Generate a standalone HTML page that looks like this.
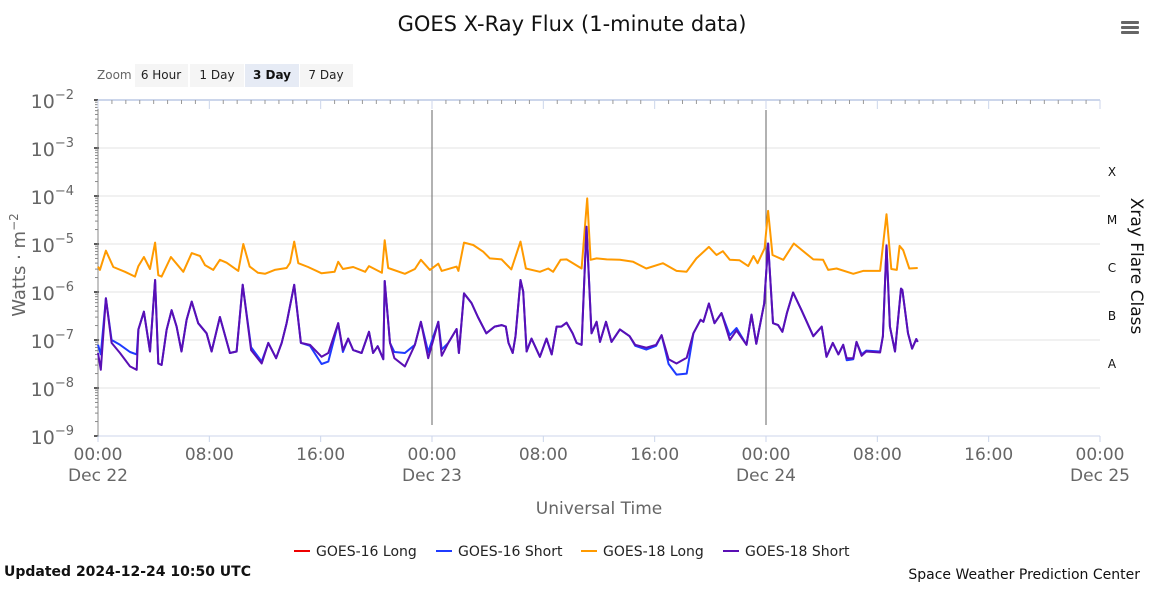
<!DOCTYPE html>
<html><head><meta charset="utf-8">
<style>
body{margin:0;background:#fff;font-family:"Liberation Sans","DejaVu Sans",sans-serif;}
svg text{font-family:"DejaVu Sans","Liberation Sans",sans-serif;}
</style></head>
<body>
<svg id="chart" width="1151" height="589" viewBox="0 0 1151 589" xmlns="http://www.w3.org/2000/svg">
<text x="572" y="31" text-anchor="middle" font-size="21" fill="#111">GOES X-Ray Flux (1-minute data)</text>
<g fill="#666">
<rect x="1121" y="21" width="18" height="3" rx="1"/><rect x="1121" y="26" width="18" height="3" rx="1"/><rect x="1121" y="31" width="18" height="3" rx="1"/>
</g>
<text x="97" y="79" font-size="12" fill="#666">Zoom</text>
<g><rect x="135" y="64" width="53" height="23" fill="#f5f5f5"/><text x="161" y="79" font-size="12" text-anchor="middle" fill="#222">6 Hour</text></g>
<g><rect x="190" y="64" width="54" height="23" fill="#f5f5f5"/><text x="217" y="79" font-size="12" text-anchor="middle" fill="#222">1 Day</text></g>
<g><rect x="245" y="64" width="54" height="23" fill="#e6ebf5"/><text x="272" y="79" font-size="12" text-anchor="middle" fill="#111" font-weight="bold">3 Day</text></g>
<g><rect x="300" y="64" width="53" height="23" fill="#f5f5f5"/><text x="326" y="79" font-size="12" text-anchor="middle" fill="#222">7 Day</text></g>
<g id="grid"></g>
<g id="axes"></g>
<g id="series"></g>
<text transform="translate(25,265) rotate(-90)" text-anchor="middle" font-size="18" fill="#666">Watts · m<tspan dy="-7" font-size="12">−2</tspan></text>
<text transform="translate(1131,266) rotate(90)" text-anchor="middle" font-size="17" fill="#111">Xray Flare Class</text>
<text x="599" y="514" text-anchor="middle" font-size="17" fill="#666">Universal Time</text>
<g font-size="14" fill="#222">
<g><line x1="294" y1="551" x2="310" y2="551" stroke="#e00" stroke-width="2"/><text x="316" y="556">GOES-16 Long</text></g>
<g><line x1="436" y1="551" x2="452" y2="551" stroke="#1f3bff" stroke-width="2"/><text x="458" y="556">GOES-16 Short</text></g>
<g><line x1="581" y1="551" x2="597" y2="551" stroke="#ff9a00" stroke-width="2"/><text x="603" y="556">GOES-18 Long</text></g>
<g><line x1="723" y1="551" x2="739" y2="551" stroke="#5a0fb4" stroke-width="2"/><text x="745" y="556">GOES-18 Short</text></g>
</g>
<text x="4" y="576" font-size="14" font-weight="bold" fill="#111">Updated 2024-12-24 10:50 UTC</text>
<text x="1140" y="579" text-anchor="end" font-size="14" fill="#111">Space Weather Prediction Center</text>
</svg>
<script>
// [hour since Dec 22 00:00, log10(flux)]
const goes18Long=[[0,-5.47],[0.14,-5.54],[0.57,-5.14],[1.1,-5.48],[1.94,-5.58],[2.66,-5.68],[2.9,-5.46],[3.3,-5.27],[3.74,-5.52],[4.1,-4.97],[4.33,-5.65],[4.57,-5.68],[5.24,-5.27],[6.13,-5.58],[6.73,-5.19],[7.33,-5.25],[7.69,-5.44],[8.28,-5.54],[8.76,-5.33],[9.24,-5.39],[10.08,-5.56],[10.44,-5.0],[10.9,-5.47],[11.5,-5.6],[12,-5.62],[12.7,-5.54],[13.55,-5.5],[13.8,-5.39],[14.1,-4.95],[14.39,-5.4],[15.1,-5.48],[16.07,-5.61],[17.0,-5.58],[17.26,-5.37],[17.6,-5.52],[18.34,-5.48],[19.2,-5.58],[19.47,-5.46],[20.4,-5.6],[20.6,-4.92],[20.85,-5.5],[22.05,-5.62],[22.77,-5.52],[23.2,-5.33],[23.85,-5.54],[24.45,-5.41],[24.7,-5.56],[25.77,-5.47],[25.9,-5.56],[26.3,-4.97],[26.96,-5.02],[27.68,-5.16],[28.16,-5.3],[29,-5.32],[29.7,-5.53],[30.36,-4.95],[30.75,-5.51],[31.75,-5.58],[32.35,-5.51],[32.7,-5.58],[33.24,-5.33],[33.67,-5.32],[34.75,-5.51],[35.15,-4.05],[35.4,-5.33],[35.83,-5.3],[36.55,-5.32],[37.5,-5.33],[38.46,-5.37],[39.4,-5.51],[40.6,-5.4],[41.57,-5.56],[42.29,-5.58],[43,-5.3],[43.9,-5.06],[44.44,-5.23],[44.9,-5.15],[45.4,-5.33],[46.1,-5.34],[46.72,-5.46],[47.1,-5.25],[47.4,-5.4],[47.9,-5.09],[48.15,-4.31],[48.47,-5.23],[49.24,-5.33],[50,-4.99],[51.4,-5.32],[52.1,-5.33],[52.47,-5.54],[53.07,-5.51],[54.27,-5.62],[54.98,-5.56],[56.2,-5.56],[56.66,-4.38],[57.0,-5.52],[57.4,-5.54],[57.6,-5.04],[57.86,-5.13],[58.3,-5.51],[58.9,-5.5]];
const goes18Short=[[0,-7.27],[0.2,-7.62],[0.57,-6.13],[0.98,-7.06],[1.58,-7.27],[2.3,-7.55],[2.78,-7.62],[2.9,-6.78],[3.3,-6.41],[3.74,-7.24],[4.1,-5.75],[4.33,-7.49],[4.57,-7.52],[4.93,-6.79],[5.29,-6.38],[5.65,-6.72],[6.0,-7.24],[6.37,-6.58],[6.73,-6.2],[7.2,-6.65],[7.8,-6.86],[8.16,-7.24],[8.76,-6.52],[9.48,-7.27],[9.96,-7.24],[10.4,-5.85],[11,-7.21],[11.76,-7.49],[12.24,-7.06],[12.8,-7.38],[13.2,-7.06],[13.55,-6.65],[14.1,-5.85],[14.58,-7.06],[15.23,-7.1],[16.07,-7.35],[16.55,-7.27],[17.26,-6.65],[17.6,-7.21],[17.98,-6.97],[18.34,-7.21],[18.94,-7.27],[19.47,-6.83],[19.77,-7.27],[20.1,-7.13],[20.5,-7.4],[20.6,-5.77],[20.98,-7.06],[21.3,-7.38],[22.05,-7.55],[22.77,-7.1],[23.2,-6.62],[23.73,-7.38],[24.45,-6.62],[24.7,-7.33],[25.17,-7.06],[25.77,-6.77],[25.93,-7.27],[26.3,-6.03],[26.84,-6.23],[27.3,-6.52],[27.9,-6.86],[28.5,-6.72],[29,-6.69],[29.3,-6.72],[29.5,-7.06],[29.8,-7.27],[30,-6.92],[30.36,-5.75],[30.55,-5.99],[30.8,-7.24],[31.15,-6.97],[31.75,-7.35],[32.23,-6.97],[32.6,-7.3],[32.95,-6.72],[33.3,-6.72],[33.67,-6.64],[34.1,-6.86],[34.39,-7.06],[34.75,-7.1],[35.1,-4.64],[35.46,-6.86],[35.83,-6.62],[36.07,-7.04],[36.5,-6.62],[36.9,-7.04],[37.5,-6.78],[38.2,-6.92],[38.6,-7.1],[39.4,-7.16],[40.1,-7.1],[40.5,-6.9],[41.0,-7.4],[41.57,-7.49],[42.3,-7.37],[42.78,-6.86],[43.3,-6.58],[43.5,-6.62],[43.9,-6.24],[44.3,-6.65],[44.8,-6.44],[45.4,-7.0],[45.88,-6.8],[46.6,-7.1],[46.96,-6.47],[47.3,-7.08],[47.87,-6.24],[48.15,-4.99],[48.5,-6.65],[48.87,-6.69],[49.18,-6.83],[49.5,-6.44],[49.95,-6.01],[50.55,-6.38],[51.4,-6.92],[52,-6.72],[52.35,-7.35],[52.8,-7.06],[53.2,-7.3],[53.55,-7.1],[53.8,-7.38],[54.27,-7.38],[54.5,-7.04],[54.87,-7.33],[55.2,-7.24],[56.2,-7.26],[56.4,-6.92],[56.66,-5.03],[56.9,-6.72],[57.27,-7.24],[57.7,-5.93],[57.8,-5.96],[58.2,-6.86],[58.5,-7.18],[58.8,-6.98],[58.9,-7.04]];
const goes16Short=[[0,-7.1],[0.2,-7.3],[0.57,-6.13],[0.98,-7.0],[1.58,-7.1],[2.3,-7.25],[2.78,-7.3],[2.9,-6.78],[3.3,-6.41],[3.74,-7.24],[4.1,-5.75],[4.33,-7.49],[4.57,-7.52],[4.93,-6.79],[5.29,-6.38],[5.65,-6.72],[6.0,-7.24],[6.37,-6.58],[6.73,-6.2],[7.2,-6.65],[7.8,-6.86],[8.16,-7.24],[8.76,-6.52],[9.48,-7.27],[9.96,-7.24],[10.4,-5.85],[11,-7.15],[11.76,-7.45],[12.24,-7.06],[12.8,-7.38],[13.2,-7.06],[13.55,-6.65],[14.1,-5.85],[14.58,-7.06],[15.23,-7.12],[16.07,-7.5],[16.55,-7.45],[17.26,-6.65],[17.6,-7.25],[17.98,-6.97],[18.34,-7.21],[18.94,-7.27],[19.47,-6.83],[19.77,-7.27],[20.1,-7.13],[20.5,-7.4],[20.6,-5.77],[20.98,-7.06],[21.3,-7.25],[22.05,-7.27],[22.77,-7.1],[23.2,-6.62],[23.73,-7.25],[24.45,-6.62],[24.7,-7.2],[25.17,-7.06],[25.77,-6.77],[25.93,-7.27],[26.3,-6.03],[26.84,-6.23],[27.3,-6.52],[27.9,-6.86],[28.5,-6.72],[29,-6.69],[29.3,-6.72],[29.5,-7.06],[29.8,-7.27],[30,-6.92],[30.36,-5.75],[30.55,-5.99],[30.8,-7.24],[31.15,-6.97],[31.75,-7.35],[32.23,-6.97],[32.6,-7.3],[32.95,-6.72],[33.3,-6.72],[33.67,-6.64],[34.1,-6.86],[34.39,-7.06],[34.75,-7.1],[35.1,-4.64],[35.46,-6.86],[35.83,-6.62],[36.07,-7.04],[36.5,-6.62],[36.9,-7.04],[37.5,-6.78],[38.2,-6.92],[38.6,-7.12],[39.4,-7.2],[40.1,-7.12],[40.5,-6.9],[41.0,-7.5],[41.57,-7.72],[42.3,-7.7],[42.78,-6.86],[43.3,-6.58],[43.5,-6.62],[43.9,-6.24],[44.3,-6.65],[44.8,-6.44],[45.4,-6.9],[45.88,-6.75],[46.6,-7.1],[46.96,-6.47],[47.3,-7.08],[47.87,-6.24],[48.15,-4.99],[48.5,-6.65],[48.87,-6.69],[49.18,-6.83],[49.5,-6.44],[49.95,-6.01],[50.55,-6.38],[51.4,-6.92],[52,-6.72],[52.35,-7.35],[52.8,-7.06],[53.2,-7.3],[53.55,-7.1],[53.8,-7.42],[54.27,-7.4],[54.5,-7.04],[54.87,-7.3],[55.2,-7.22],[56.2,-7.24],[56.4,-6.92],[56.66,-5.03],[56.9,-6.72],[57.27,-7.24],[57.7,-5.93],[57.8,-5.96],[58.2,-6.86],[58.5,-7.18],[58.8,-6.98],[58.9,-7.04]];
const yTickExps=[-2,-3,-4,-5,-6,-7,-8,-9];
const xTickHours=[0,8,16,24,32,40,48,56,64,72];
const xTickTimes=["00:00","08:00","16:00","00:00","08:00","16:00","00:00","08:00","16:00","00:00"];
const xTickDates={0:"Dec 22",24:"Dec 23",48:"Dec 24",72:"Dec 25"};
const flareClasses=["X","M","C","B","A"];
const flareLowExp=[-4,-5,-6,-7,-8];

const NS="http://www.w3.org/2000/svg";
const X0=98,X1=1100,Y0=100,DEC=48,HMAX=72;
const xs=h=>X0+(X1-X0)*h/HMAX;
const ys=l=>Y0+(-2-l)*DEC;
function mk(tag,attrs,parent){const e=document.createElementNS(NS,tag);for(const k in attrs)e.setAttribute(k,attrs[k]);parent.appendChild(e);return e;}
const grid=document.getElementById('grid'),axes=document.getElementById('axes'),ser=document.getElementById('series');
yTickExps.forEach(e=>{
  const y=ys(e);
  if(e<-2&&e>-9){const g=mk('line',{x1:X0,x2:X1,y1:y,y2:y,stroke:'#e3e3e3','stroke-width':1},grid);
  
  }
  const t=mk('text',{x:74,y:y+8,'text-anchor':'end','font-size':19,fill:'#666'},axes);
  
  
  t.textContent='10';
  const s=mk('tspan',{dy:-9,'font-size':13},t);s.textContent='−'+(-e);
  mk('line',{x1:X0-4,x2:X0+1,y1:y,y2:y,stroke:'#222','stroke-width':1.5},axes);
  if(e>-9)for(let m=2;m<10;m++){const yy=ys(e-1+Math.log10(m));mk('line',{x1:X0-3,x2:X0,y1:yy,y2:yy,stroke:'#888','stroke-width':1},axes);}
});
mk('line',{x1:X0,x2:X0,y1:Y0,y2:ys(-9),stroke:'#888','stroke-width':1},axes);
mk('line',{x1:X0,x2:X1,y1:Y0,y2:Y0,stroke:'#ccd6eb','stroke-width':2},axes);
mk('line',{x1:X0,x2:X1,y1:ys(-9),y2:ys(-9),stroke:'#ccd6eb','stroke-width':1},axes);
for(let h=0;h<=HMAX;h++){const x=xs(h);const major=h%8===0;
  mk('line',{x1:x,x2:x,y1:Y0,y2:Y0+(major?9:4),stroke:major?'#ccd6eb':'#999','stroke-width':1},axes);
  if(major)mk('line',{x1:x,x2:x,y1:ys(-9),y2:ys(-9)+6,stroke:'#ccd6eb','stroke-width':1},axes);}
xTickHours.forEach((h,i)=>{
  const t=mk('text',{x:xs(h),y:460,'text-anchor':'middle','font-size':17,fill:'#666'},axes);
  
  
  t.textContent=xTickTimes[i];
  if(xTickDates[h]){const d=mk('text',{x:xs(h),y:481,'text-anchor':'middle','font-size':17,fill:'#666'},axes);
  
  
  d.textContent=xTickDates[h];}
});
[24,48].forEach(h=>{const l=mk('line',{x1:xs(h),x2:xs(h),y1:110,y2:425,stroke:'#666','stroke-width':1},axes);
  
  });
flareClasses.forEach((c,i)=>{const t=mk('text',{x:1112,y:ys(flareLowExp[i]+0.5)+4,'text-anchor':'middle','font-size':12,fill:'#111'},axes);
  
  
  t.textContent=c;});
function line(data,color,name){
  const p=mk('path',{d:data.map((d,i)=>(i?'L':'M')+xs(d[0]).toFixed(1)+','+ys(d[1]).toFixed(1)).join(''),fill:'none',stroke:color,'stroke-width':2,'stroke-linejoin':'round'},ser);
  
  
}
line(goes18Long,'#ff9a00','goes18-long-line');
line(goes16Short,'#1f3bff','goes16-short-line');
line(goes18Short,'#5a0fb4','goes18-short-line');
</script>
</body></html>
